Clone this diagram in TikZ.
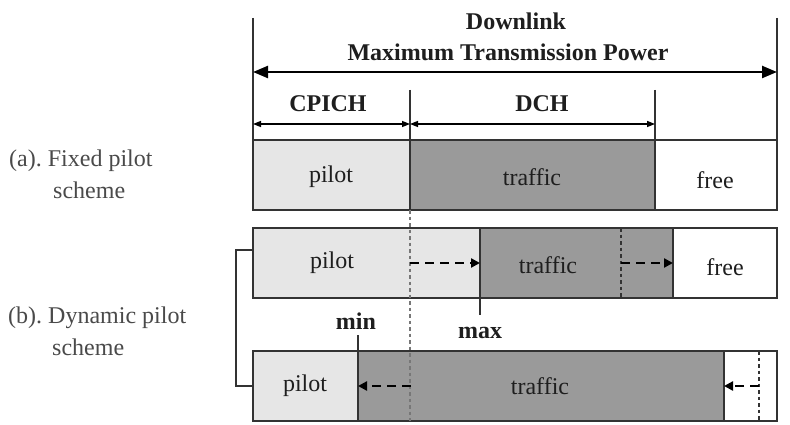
\documentclass[tikz,border=0pt]{standalone}
\usepackage{fontspec}
\setmainfont{Liberation Serif}
\usetikzlibrary{arrows.meta}
\definecolor{lightfill}{HTML}{E6E6E6}
\definecolor{darkfill}{HTML}{9A9A9A}
\definecolor{edge}{HTML}{333333}
\definecolor{ink}{HTML}{1E1E1E}
\definecolor{side}{HTML}{4A4A4A}
\definecolor{dotgray}{HTML}{777777}
\frenchspacing
\begin{document}
\begin{tikzpicture}[x=1pt,y=-1pt,
  cell/.style={draw=edge, line width=2.2pt, rectangle, anchor=north west, inner sep=0pt, outer sep=0pt, minimum height=70},
  lbl/.style={font=\fontsize{24}{24}\selectfont, text=ink, inner sep=0pt},
  hdr/.style={font=\fontsize{24}{24}\selectfont\bfseries, text=ink, inner sep=0pt},
  sidelbl/.style={font=\fontsize{24}{32}\selectfont, text=side, align=left, inner sep=0pt, anchor=west},
  guide/.style={draw=edge, line width=1.4pt},
  bigarrow/.style={line width=2.4pt, {Triangle[length=15pt,width=12pt]}-{Triangle[length=15pt,width=12pt]}},
  smallarrow/.style={line width=1.4pt, {Triangle[length=8pt,width=6pt]}-{Triangle[length=8pt,width=6pt]}},
  dasharrow/.style={line width=2.8pt, dash pattern=on 9pt off 6pt, -{Triangle[length=9pt,width=9pt]}},
  dotline/.style={line width=2pt, dash pattern=on 3.5pt off 3pt},
]
\useasboundingbox[fill=white] (0,0) rectangle (790,425);

% row (a)
\node[cell, fill=lightfill, minimum width=157] (ap) at (253,140) {};
\node[cell, fill=darkfill, minimum width=245] (at) at (410,140) {};
\node[cell, fill=white, minimum width=122] (af) at (655,140) {};

% row (b) upper
\node[cell, fill=lightfill, minimum width=227] (bp) at (253,228) {};
\node[cell, fill=darkfill, minimum width=193] (bt) at (480,228) {};
\node[cell, fill=white, minimum width=104] (bf) at (673,228) {};

% row (b) lower
\node[cell, fill=lightfill, minimum width=105] (cp) at (253,351) {};
\node[cell, fill=darkfill, minimum width=366] (ct) at (358,351) {};
\node[cell, fill=white, minimum width=53] (cf) at (724,351) {};

% guides
\coordinate (topL) at (253,18);
\coordinate (topR) at (777,18);
\coordinate (cpT) at (410,90);
\coordinate (dchT) at (655,90);
\draw[guide] (topL) -- (ap.north west);
\draw[guide] (topR) -- (af.north east);
\draw[guide] (cpT) -- (at.north west);
\draw[guide] (dchT) -- (af.north west);

\coordinate (bigL) at (253,72);
\coordinate (bigR) at (777,72);
\draw[bigarrow] (bigL) -- (bigR);

\coordinate (sA) at (253,124);
\coordinate (sB) at (410,124);
\coordinate (sC) at (655,124);
\draw[smallarrow] (sA) -- (sB);
\draw[smallarrow] (sB) -- (sC);

% dotted markers
\coordinate (dotEnd) at (410,421);
\draw[dotline, draw=dotgray] (at.south west) -- (dotEnd);
\coordinate (d2a) at (621,228);
\coordinate (d2b) at (621,298);
\draw[dotline, draw=edge] (d2a) -- (d2b);
\coordinate (d3a) at (759,351);
\coordinate (d3b) at (759,421);
\draw[dotline, draw=edge] (d3a) -- (d3b);

% dashed arrows
\coordinate (e1) at (410,263);
\draw[dasharrow] (e1) -- (bt.west);
\coordinate (e2) at (621,263);
\draw[dasharrow] (e2) -- (bf.west);
\coordinate (e3) at (411,386);
\draw[dasharrow] (e3) -- (cp.east);
\coordinate (e4) at (759,386);
\draw[dasharrow] (e4) -- (ct.east);

% min / max
\draw[guide] (bt.south west) -- ++(0,17);
\draw[guide] (cp.north east) -- ++(0,-16);
\node[hdr] (maxl) at (480,333) {max};
\node[hdr] (minl) at (356,321) {min};

% bracket
\draw[guide] ([yshift=13pt]bp.west) -- ++(-17,0) |- (cp.west);

% headers
\node[hdr] (dl) at (516,21) {Downlink};
\node[hdr] (mtp) at (508,52) {Maximum Transmission Power};
\node[hdr] (cpich) at (328,104) {CPICH};
\node[hdr] (dch) at (542,104) {DCH};

% box labels
\node[lbl] at (331,177) {pilot};
\node[lbl] at (532,177) {traffic};
\node[lbl] at (715,180) {free};
\node[lbl] at (332,263) {pilot};
\node[lbl] at (548,265) {traffic};
\node[lbl] at (725,267) {free};
\node[lbl] at (305,386) {pilot};
\node[lbl] at (540,386) {traffic};

% side labels
\node[sidelbl] (la) at (9,174) {(a). Fixed pilot\\\hspace*{44pt}scheme};
\node[sidelbl] (lb) at (8,331) {(b). Dynamic pilot\\\hspace*{44pt}scheme};
\end{tikzpicture}
\end{document}
